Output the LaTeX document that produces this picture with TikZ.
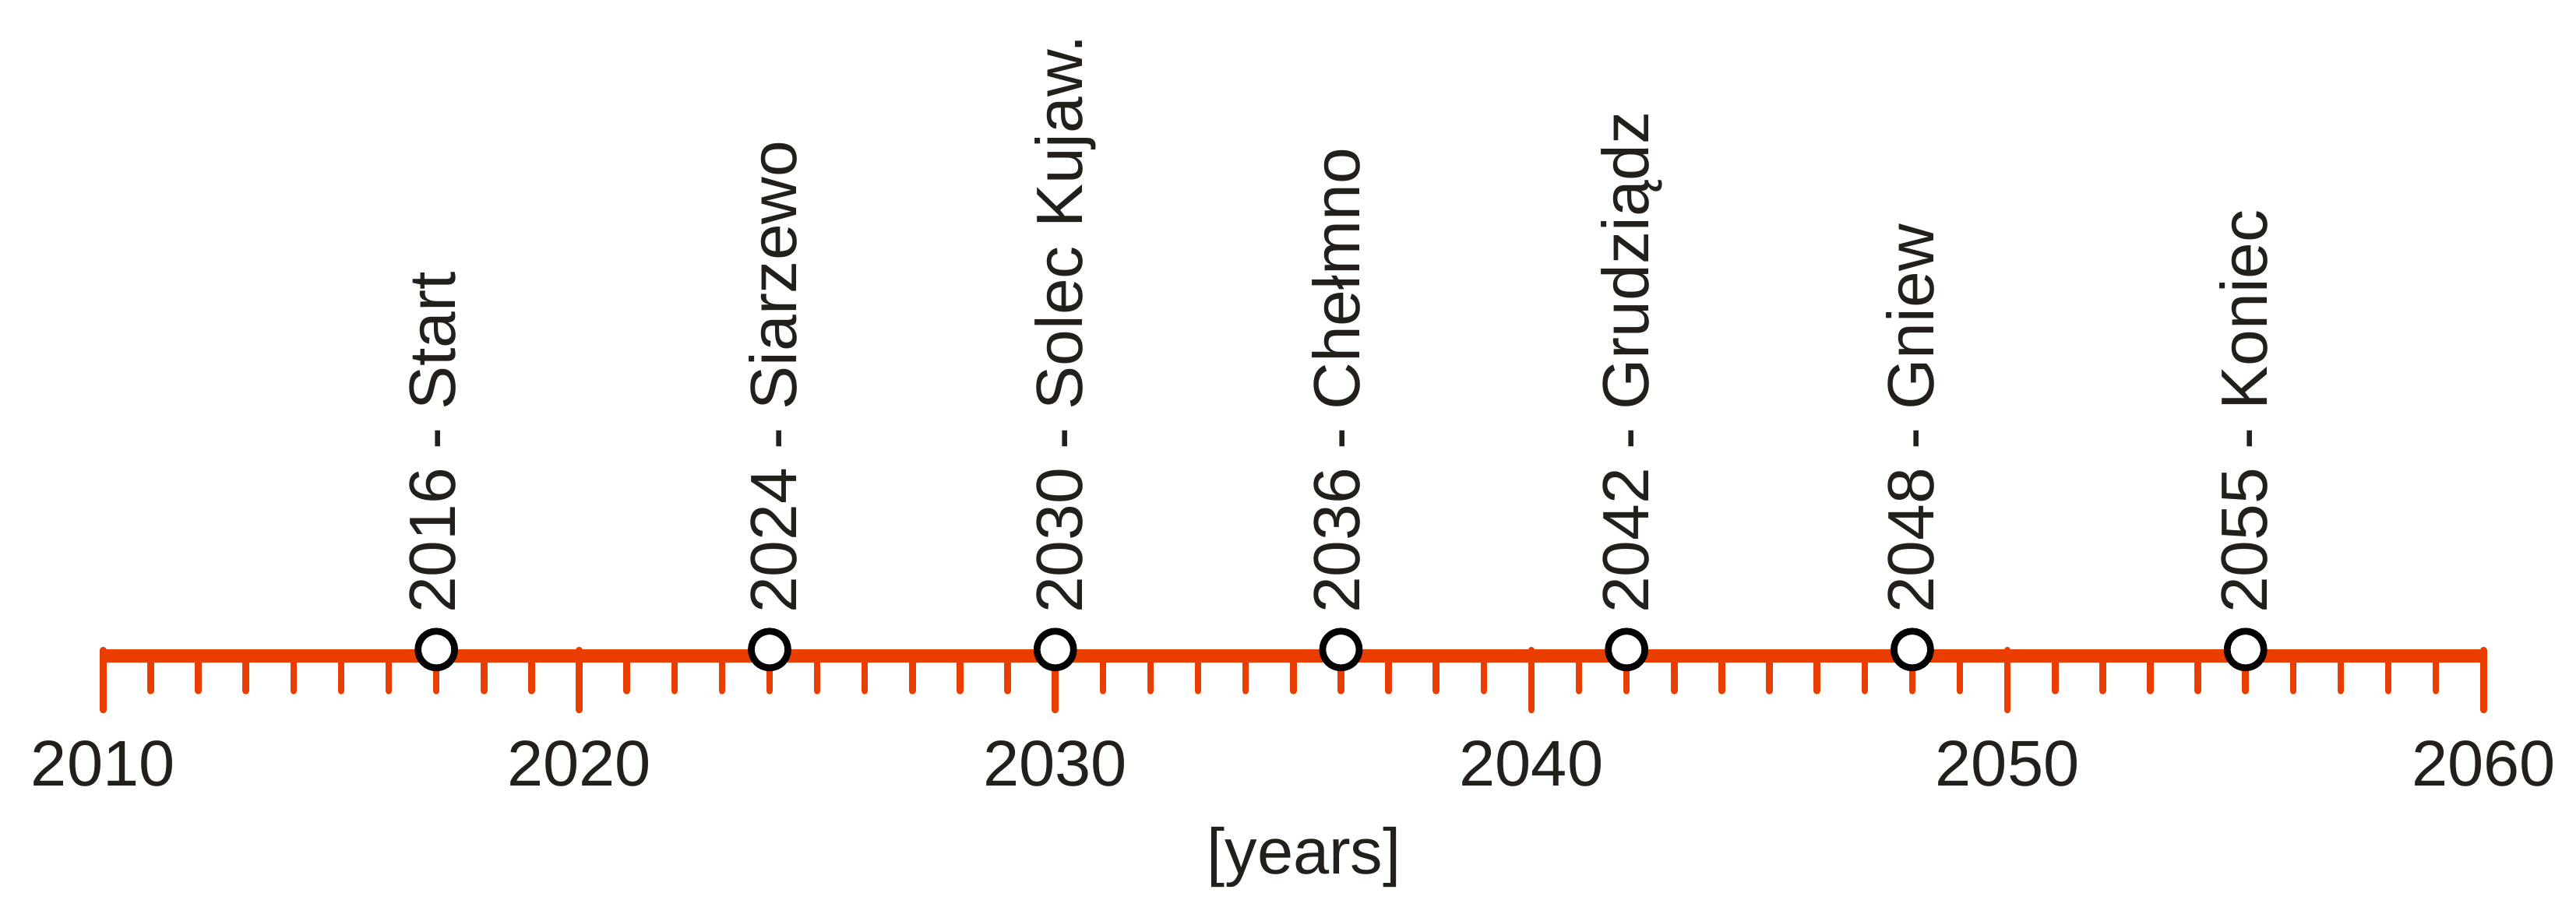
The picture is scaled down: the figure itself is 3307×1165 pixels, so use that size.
\documentclass[tikz,border=0pt]{standalone}
\usepackage{fontspec}
\setmainfont{Liberation Sans}
\definecolor{axisred}{RGB}{234,61,0}
\definecolor{txtcol}{RGB}{35,32,27}
\begin{document}
\begin{tikzpicture}[x=0.01cm,y=-0.01cm,
  lbl/.style={font=\fontsize{23.6}{28}\selectfont, text=txtcol, inner sep=0pt, outer sep=0pt},
  vlbl/.style={font=\fontsize{23.9}{28}\selectfont, text=txtcol, inner sep=0pt, outer sep=0pt, rotate=90, anchor=base west},
  axisline/.style={draw=axisred, line width=4.75pt},
  tickline/.style={draw=axisred, line width=2.42pt, line cap=round},
  marker/.style={circle, draw=black, fill=white, line width=2.47pt, inner sep=0pt, minimum size=0.47cm}]
\useasboundingbox (0,0) rectangle (3307,1165);
% axis
\coordinate (axL) at (132.3,842.3);
\coordinate (axR) at (3188.3,842.3);
\draw[axisline] (axL) -- (axR);
% minor ticks
\foreach \i in {0,...,50}{
  \pgfmathsetmacro\xx{132.3+61.12*\i}
  \coordinate (mt\i a) at (\xx,842.3);
  \coordinate (mt\i b) at (\xx,887.5);
  \draw[tickline] (mt\i a) -- (mt\i b);
}
% major ticks and labels
\foreach \i/\t in {0/2010,10/2020,20/2030,30/2040,40/2050,50/2060}{
  \pgfmathsetmacro\xx{132.3+61.12*\i}
  \coordinate (Mt\t a) at (\xx,835);
  \coordinate (Mt\t b) at (\xx,912);
  \draw[tickline] (Mt\t a) -- (Mt\t b);
  \node[lbl, anchor=base] (lab\t) at (\xx,1009) {\t};
}
% milestones
\foreach \i/\txt/\off in {7/{2016 - Start}/24, 14/{2024 - Siarzewo}/35, 20/{2030 - Solec Kujaw.}/35, 26/{2036 - Chełmno}/24, 32/{2042 - Grudziądz}/28, 38/{2048 - Gniew}/28, 45/{2055 - Koniec}/28}{
  \pgfmathsetmacro\xx{132.3+61.12*\i}
  \pgfmathsetmacro\xl{\xx+\off}
  \node[marker] (m\i) at (\xx,834.3) {};
  \node[vlbl] (t\i) at (\xl,788) {\txt};
}
\node[lbl, anchor=base] (unit) at (1674,1122) {[years]};
\end{tikzpicture}
\end{document}
